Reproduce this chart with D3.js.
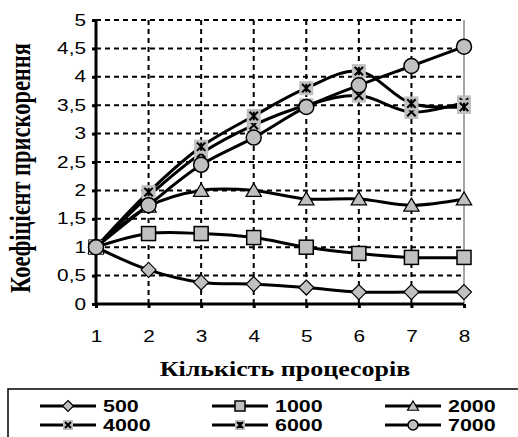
<!DOCTYPE html>
<html><head><meta charset="utf-8">
<script src="https://cdn.jsdelivr.net/npm/d3@7"></script>
<style>body{margin:0;background:#fff}svg{display:block}</style>
</head><body>
<script>
const processors = [1,2,3,4,5,6,7,8];
const seriesNames = ["500","1000","2000","4000","6000","7000"];
const s500  = [1,0.60,0.38,0.35,0.29,0.21,0.21,0.21];
const s1000 = [1,1.24,1.24,1.17,1.00,0.89,0.82,0.82];
const s2000 = [1,1.72,2.00,2.00,1.85,1.85,1.74,1.85];
const s4000 = [1,1.90,2.65,3.15,3.50,3.67,3.38,3.55];
const s6000 = [1,1.97,2.77,3.31,3.80,4.10,3.53,3.47];
const s7000 = [1,1.74,2.45,2.93,3.47,3.85,4.19,4.53];
const yTicks = [0,0.5,1,1.5,2,2.5,3,3.5,4,4.5,5];
const yTickLabels = ["0","0,5","1","1,5","2","2,5","3","3,5","4","4,5","5"];
const markerTypes = ["diamond","square","triangle","cross","star","circle"];
const allSeries = [s500,s1000,s2000,s4000,s6000,s7000];

const W=518,H=437;
const svg=d3.select("body").append("svg").attr("width",W).attr("height",H);
const x=d3.scaleLinear().domain([1,8]).range([96,464]);
const y=d3.scaleLinear().domain([0,5]).range([304,20]);
const SX=1.3;
const GRAY="#c0c0c0";

// grid
const g=svg.append("g");
g.selectAll("line.h").data(yTicks.filter(d=>d>0)).join("line")
 .attr("x1",x(1)).attr("x2",x(8)).attr("y1",d=>y(d)).attr("y2",d=>y(d))
 .attr("stroke","#000").attr("stroke-width",2).attr("stroke-dasharray","5,4");
g.selectAll("line.v").data(processors.slice(1,7)).join("line")
 .attr("x1",d=>x(d)).attr("x2",d=>x(d)).attr("y1",y(5)).attr("y2",y(0))
 .attr("stroke","#000").attr("stroke-width",2).attr("stroke-dasharray","5,4");
g.append("line").attr("x1",x(8)).attr("x2",x(8)).attr("y1",y(5)).attr("y2",y(0))
 .attr("stroke","#888").attr("stroke-width",1.5);

// axes
const yAxis=svg.append("g").attr("transform",`translate(${x(1)},0)`)
 .call(d3.axisLeft(y).tickValues(yTicks).tickFormat((d,i)=>yTickLabels[i]).tickSize(4).tickPadding(6));
const xAxis=svg.append("g").attr("transform",`translate(0,${y(0)})`)
 .call(d3.axisBottom(x).tickValues(processors).tickFormat(d=>d).tickSize(4).tickPadding(23));
[yAxis,xAxis].forEach(a=>{
  a.select(".domain").attr("stroke","#000").attr("stroke-width",3);
  a.selectAll(".tick line").attr("stroke","#000").attr("stroke-width",3);
  a.selectAll(".tick text").attr("font-family","Arial, 'Liberation Sans', sans-serif").attr("font-size",16).attr("fill","#000");
});
yAxis.selectAll(".tick text").each(function(){
  const t=d3.select(this); const xx=+t.attr("x");
  t.attr("x",null).attr("transform",`translate(${xx},0) scale(${SX},1)`);
});
xAxis.selectAll(".tick text").attr("transform",`scale(${SX},1)`);
xAxis.select(".domain").attr("d",`M${x(1)},0H${x(8)}`);
yAxis.select(".domain").attr("d",`M0,${y(0)+2}V${y(5)}`);

// titles
svg.append("text").attr("transform",`translate(285,376) scale(${SX},1)`)
 .attr("text-anchor","middle").attr("font-family","'Liberation Serif','Times New Roman',serif")
 .attr("font-weight","bold").attr("font-size",20).text("Кількість процесорів");
svg.append("text").attr("transform",`translate(30,168) scale(${SX},1) rotate(-90)`)
 .attr("text-anchor","middle").attr("font-family","'Liberation Serif','Times New Roman',serif")
 .attr("font-weight","bold").attr("font-size",22.5).text("Коефіцієнт прискорення");

function marker(sel,type,s){
  if(type==="diamond") sel.append("path").attr("d",`M0,${-s}L${s},0L0,${s}L${-s},0Z`).attr("fill",GRAY).attr("stroke","#000").attr("stroke-width",1.2);
  else if(type==="square") sel.append("rect").attr("x",-s).attr("y",-s).attr("width",2*s).attr("height",2*s).attr("fill",GRAY).attr("stroke","#000").attr("stroke-width",1.5);
  else if(type==="triangle") sel.append("path").attr("d",`M0,${-s}L${s*1.1},${s*0.85}L${-s*1.1},${s*0.85}Z`).attr("fill",GRAY).attr("stroke","#000").attr("stroke-width",1.2);
  else if(type==="circle") sel.append("circle").attr("r",s).attr("fill",GRAY).attr("stroke","#000").attr("stroke-width",1.5);
  else {
    sel.append("rect").attr("x",-s).attr("y",-s).attr("width",2*s).attr("height",2*s).attr("fill",GRAY);
    const k=s*0.6;
    sel.append("path").attr("d",`M${-k},${-k}L${k},${k}M${-k},${k}L${k},${-k}`+(type==="star"?`M0,${-k}V${k}`:""))
     .attr("stroke","#000").attr("stroke-width",2);
  }
}
const line=d3.line().x((d,i)=>x(processors[i])).y(d=>y(d)).curve(d3.curveCatmullRom.alpha(0.5));
allSeries.forEach((vals,si)=>{
  svg.append("path").attr("d",line(vals)).attr("fill","none").attr("stroke","#000").attr("stroke-width",3);
  const sz = markerTypes[si]==="circle"?7.5:(markerTypes[si]==="diamond"?7.5:7);
  svg.selectAll(null).data(vals).join("g").attr("transform",(d,i)=>`translate(${x(processors[i])},${y(d)})`)
   .each(function(){marker(d3.select(this),markerTypes[si],sz);});
});

// legend
svg.append("rect").attr("x",8).attr("y",389).attr("width",520).attr("height",60)
 .attr("fill","#fff").attr("stroke","#000").attr("stroke-width",1.5);
const colX=[40,212,385], rowY=[406,425];
seriesNames.forEach((n,i)=>{
  const cx=colX[i%3], cy=rowY[Math.floor(i/3)];
  const lg=svg.append("g").attr("transform",`translate(${cx},${cy})`);
  lg.append("line").attr("x1",0).attr("x2",56).attr("stroke","#000").attr("stroke-width",3);
  const m=lg.append("g").attr("transform","translate(28,0)");
  marker(m,markerTypes[i],markerTypes[i]==="diamond"?5.5:5);
  lg.append("text").attr("transform",`translate(63,6) scale(${SX},1)`)
   .attr("font-family","Arial,'Liberation Sans',sans-serif").attr("font-weight","bold").attr("font-size",16.5).text(n);
});
</script>
</body></html>
